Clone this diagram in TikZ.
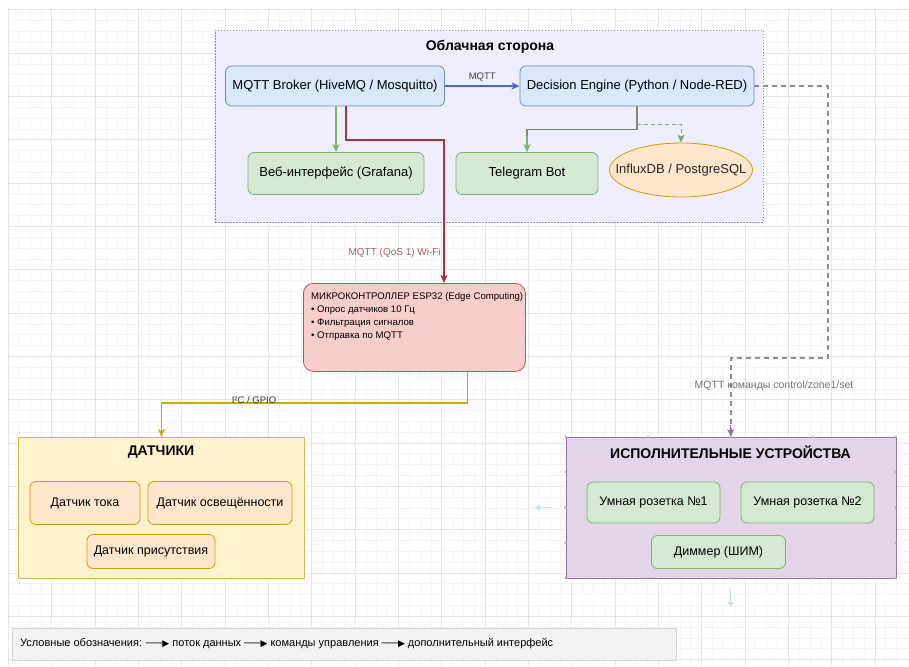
\documentclass[tikz,border=0pt]{standalone}
\usepackage{fontspec}
\setmainfont{Liberation Sans}
\newfontfamily\dejavu{DejaVu Sans}
\usetikzlibrary{arrows.meta,calc,shapes.geometric}
\definecolor{gridmin}{HTML}{F4F4F4}
\definecolor{gridmaj}{HTML}{E6E6E6}
\definecolor{cloudfill}{HTML}{EEEEFD}
\definecolor{cloudline}{HTML}{8C8CB4}
\definecolor{bluefill}{HTML}{DAE8FC}
\definecolor{blueline}{HTML}{6C8EBF}
\definecolor{greenfill}{HTML}{D5E8D4}
\definecolor{greenline}{HTML}{82B366}
\definecolor{orangefill}{HTML}{FFE6CC}
\definecolor{orangeline}{HTML}{D79B00}
\definecolor{redfill}{HTML}{F8CECC}
\definecolor{redline}{HTML}{B85450}
\definecolor{darkred}{HTML}{A8323A}
\definecolor{yellowfill}{HTML}{FFF2CC}
\definecolor{yellowline}{HTML}{D6B656}
\definecolor{mustard}{HTML}{C9A814}
\definecolor{purplefill}{HTML}{E1D5E7}
\definecolor{purpleline}{HTML}{9673A6}
\definecolor{arrowblue}{HTML}{4A66C8}
\definecolor{dashgray}{HTML}{8E8E8E}
\definecolor{legendfill}{HTML}{F3F3F3}
\definecolor{legendline}{HTML}{D4D4D4}
\definecolor{hoverblue}{HTML}{C9DDF2}
\newcommand\fsz[2]{\fontsize{#1}{#2}\selectfont}
\begin{document}
\begin{tikzpicture}[x=1pt,y=-1pt,
  gridminor/.style={draw=gridmin,line width=0.5pt},
  gridmajor/.style={draw=gridmaj,line width=0.6pt},
  boxbase/.style={rounded corners=6pt,line width=0.8pt,align=center,inner sep=2pt},
  bluebox/.style={boxbase,draw=blueline,fill=bluefill,font=\fsz{13}{15}},
  greenbox/.style={boxbase,draw=greenline,fill=greenfill,font=\fsz{13}{15}},
  sensorbox/.style={boxbase,draw=orangeline,fill=orangefill,font=\fsz{12.5}{14}},
  actbox/.style={boxbase,draw=greenline,fill=greenfill,font=\fsz{12.5}{14}},
  tip/.style={-{Stealth[length=8pt,width=7pt,inset=2pt]}},
  conn/.style={line width=1.4pt},
  lbl/.style={font=\fsz{9.5}{11},inner sep=1pt},
  handle/.style={fill=gray!55,draw=none},
]
\useasboundingbox (0,0) rectangle (909,666);
\fill[white] (0,0) rectangle (909,666);
% grid
\foreach \i in {0,...,83} {\draw[gridminor] ({8.4+\i*10.83},8) -- ({8.4+\i*10.83},666);}
\foreach \i in {0,...,60} {\draw[gridminor] (8,{9.7+\i*10.83}) -- (909,{9.7+\i*10.83});}
\foreach \i in {0,...,20} {\draw[gridmajor] ({8.4+\i*43.32},8) -- ({8.4+\i*43.32},666);}
\foreach \i in {0,...,15} {\draw[gridmajor] (8,{9.7+\i*43.32}) -- (909,{9.7+\i*43.32});}

% cloud container
\node[draw=cloudline,fill=cloudfill,dash pattern=on 1.5pt off 1.5pt,line width=0.8pt,
  minimum width=548,minimum height=192,anchor=north west,inner sep=0] (cloud) at (215,30) {};
\node[font=\bfseries\fsz{14}{16}] (cloudtitle) at (490,47) {Облачная сторона};

\node[bluebox,minimum width=219,minimum height=40] (broker) at (335,86) {MQTT Broker (HiveMQ / Mosquitto)};
\node[bluebox,minimum width=234,minimum height=40] (decision) at (637,86) {Decision Engine (Python / Node-RED)};
\node[greenbox,minimum width=176,minimum height=42] (grafana) at (336,173.5) {Веб-интерфейс (Grafana)};
\node[greenbox,minimum width=142,minimum height=42] (telegram) at (527,173.5) {Telegram Bot};
\node[ellipse,draw=orangeline,fill=orangefill,line width=0.8pt,minimum width=143,minimum height=54,
  inner sep=0] (influx) at (681,170) {};
\node[font=\fsz{13}{15},text=black!85] (influxtext) at (influx.center) {InfluxDB / PostgreSQL};

% ESP32
\node[boxbase,rounded corners=10pt,draw=redline,fill=redfill,minimum width=222,minimum height=88,
  anchor=north west,inner sep=0] (esp) at (303,283) {};
\node[anchor=north west,align=left,font=\fsz{9.6}{13},inner sep=0] (esptext) at (311,292)
  {МИКРОКОНТРОЛЛЕР ESP32 (Edge Computing)\\• Опрос датчиков 10 Гц\\• Фильтрация сигналов\\• Отправка по MQTT};

% sensors
\node[draw=yellowline,fill=yellowfill,line width=0.8pt,minimum width=286,minimum height=141,
  anchor=north west,inner sep=0] (sensors) at (18,437) {};
\node[font=\bfseries\fsz{14}{16}] (senstitle) at (161,452.5) {ДАТЧИКИ};
\node[sensorbox,minimum width=110,minimum height=43] (s1) at (85,503) {Датчик тока};
\node[sensorbox,minimum width=144,minimum height=43] (s2) at (220,503) {Датчик освещённости};
\node[sensorbox,minimum width=128,minimum height=34] (s3) at (151,551.5) {Датчик присутствия};

% actuators
\node[draw=purpleline,fill=purplefill,line width=0.8pt,minimum width=330,minimum height=141,
  anchor=north west,inner sep=0] (act) at (565.5,437) {};
\node[font=\bfseries\fsz{14}{16}] (acttitle) at (730.5,452.5) {ИСПОЛНИТЕЛЬНЫЕ УСТРОЙСТВА};
\node[actbox,minimum width=133,minimum height=41] (a1) at (653.5,502.5) {Умная розетка №1};
\node[actbox,minimum width=133,minimum height=41] (a2) at (807.5,502.5) {Умная розетка №2};
\node[actbox,minimum width=134,minimum height=33] (a3) at (718.5,552) {Диммер (ШИМ)};

% selection handles
\foreach \hx in {565.5,648,730.5,813,895.5} {
  \fill[handle] (\hx,437) circle (1.4pt);
  \fill[handle] (\hx,578) circle (1.4pt);}
\foreach \hy in {472,507.5,543} {
  \fill[handle] (565.5,\hy) circle (1.4pt);
  \fill[handle] (895.5,\hy) circle (1.4pt);}
\coordinate (hl1) at (552,507.5); \coordinate (hl2) at (535,507.5);
\coordinate (hb1) at (730.5,588); \coordinate (hb2) at (730.5,607);
\draw[hoverblue,line width=1.6pt,-{Triangle[length=5pt,width=6pt]}] (hl1) -- (hl2);
\draw[hoverblue,line width=1.6pt,-{Triangle[length=5pt,width=6pt]}] (hb1) -- (hb2);

% connectors
\draw[conn,arrowblue,tip] (broker.east) -- (decision.west) node[midway,above=3pt,lbl,text=black!75] (lmqtt) {MQTT};
\draw[conn,greenline,tip] ($(broker.south)+(1,0)$) -- (grafana.north -| {$(broker.south)+(1,0)$});
\draw[line width=1.1pt,gray!80!greenline] (decision.south) -- ++(0,23) -| ($(telegram.north)+(0,-16)$);
\draw[conn,greenline,tip] ($(telegram.north)+(0,-16)$) -- (telegram.north);
\draw[line width=1pt,greenline!70!gray,dash pattern=on 4pt off 3pt,tip] ($(decision.south)+(0,18)$) -| (influx.north);
\draw[conn,darkred,tip] ($(broker.south)+(11,0)$) |- (444,140) -- (esp.north -| 444,0);
\node[lbl,font=\fsz{10}{12},anchor=east,text=redline!80!gray] (lwifi) at (442,253) {MQTT (QoS 1) Wi-Fi};
\draw[conn,mustard,tip] ($(esp.south)+(53,0)$) |- (sensors.north |- 0,403) -- (sensors.north);
\node[lbl,text=black!80] (li2c) at (254,400) {I²C / GPIO};
\draw[line width=1.3pt,dashgray,dash pattern=on 5pt off 4pt] (decision.east) -| (828,358) -| (act.north);
\draw[line width=1.3pt,purpleline!80!gray,tip] (730.5,425) -- (act.north);
\node[lbl,font=\fsz{10.5}{12},text=black!55] (lcmd) at (774,386) {MQTT команды control/zone1/set};

% legend
\node[draw=legendline,fill=legendfill,line width=0.6pt,minimum width=664,minimum height=32,
  anchor=north west,inner sep=0] (legend) at (12,628) {};
\node[anchor=west,font=\fsz{11}{13},inner sep=0] (legendtext) at (20,644)
  {Условные обозначения: {\dejavu\fsz{9}{13}───▶} поток данных {\dejavu\fsz{9}{13}───▶} команды управления {\dejavu\fsz{9}{13}───▶} дополнительный интерфейс};
\end{tikzpicture}
\end{document}
